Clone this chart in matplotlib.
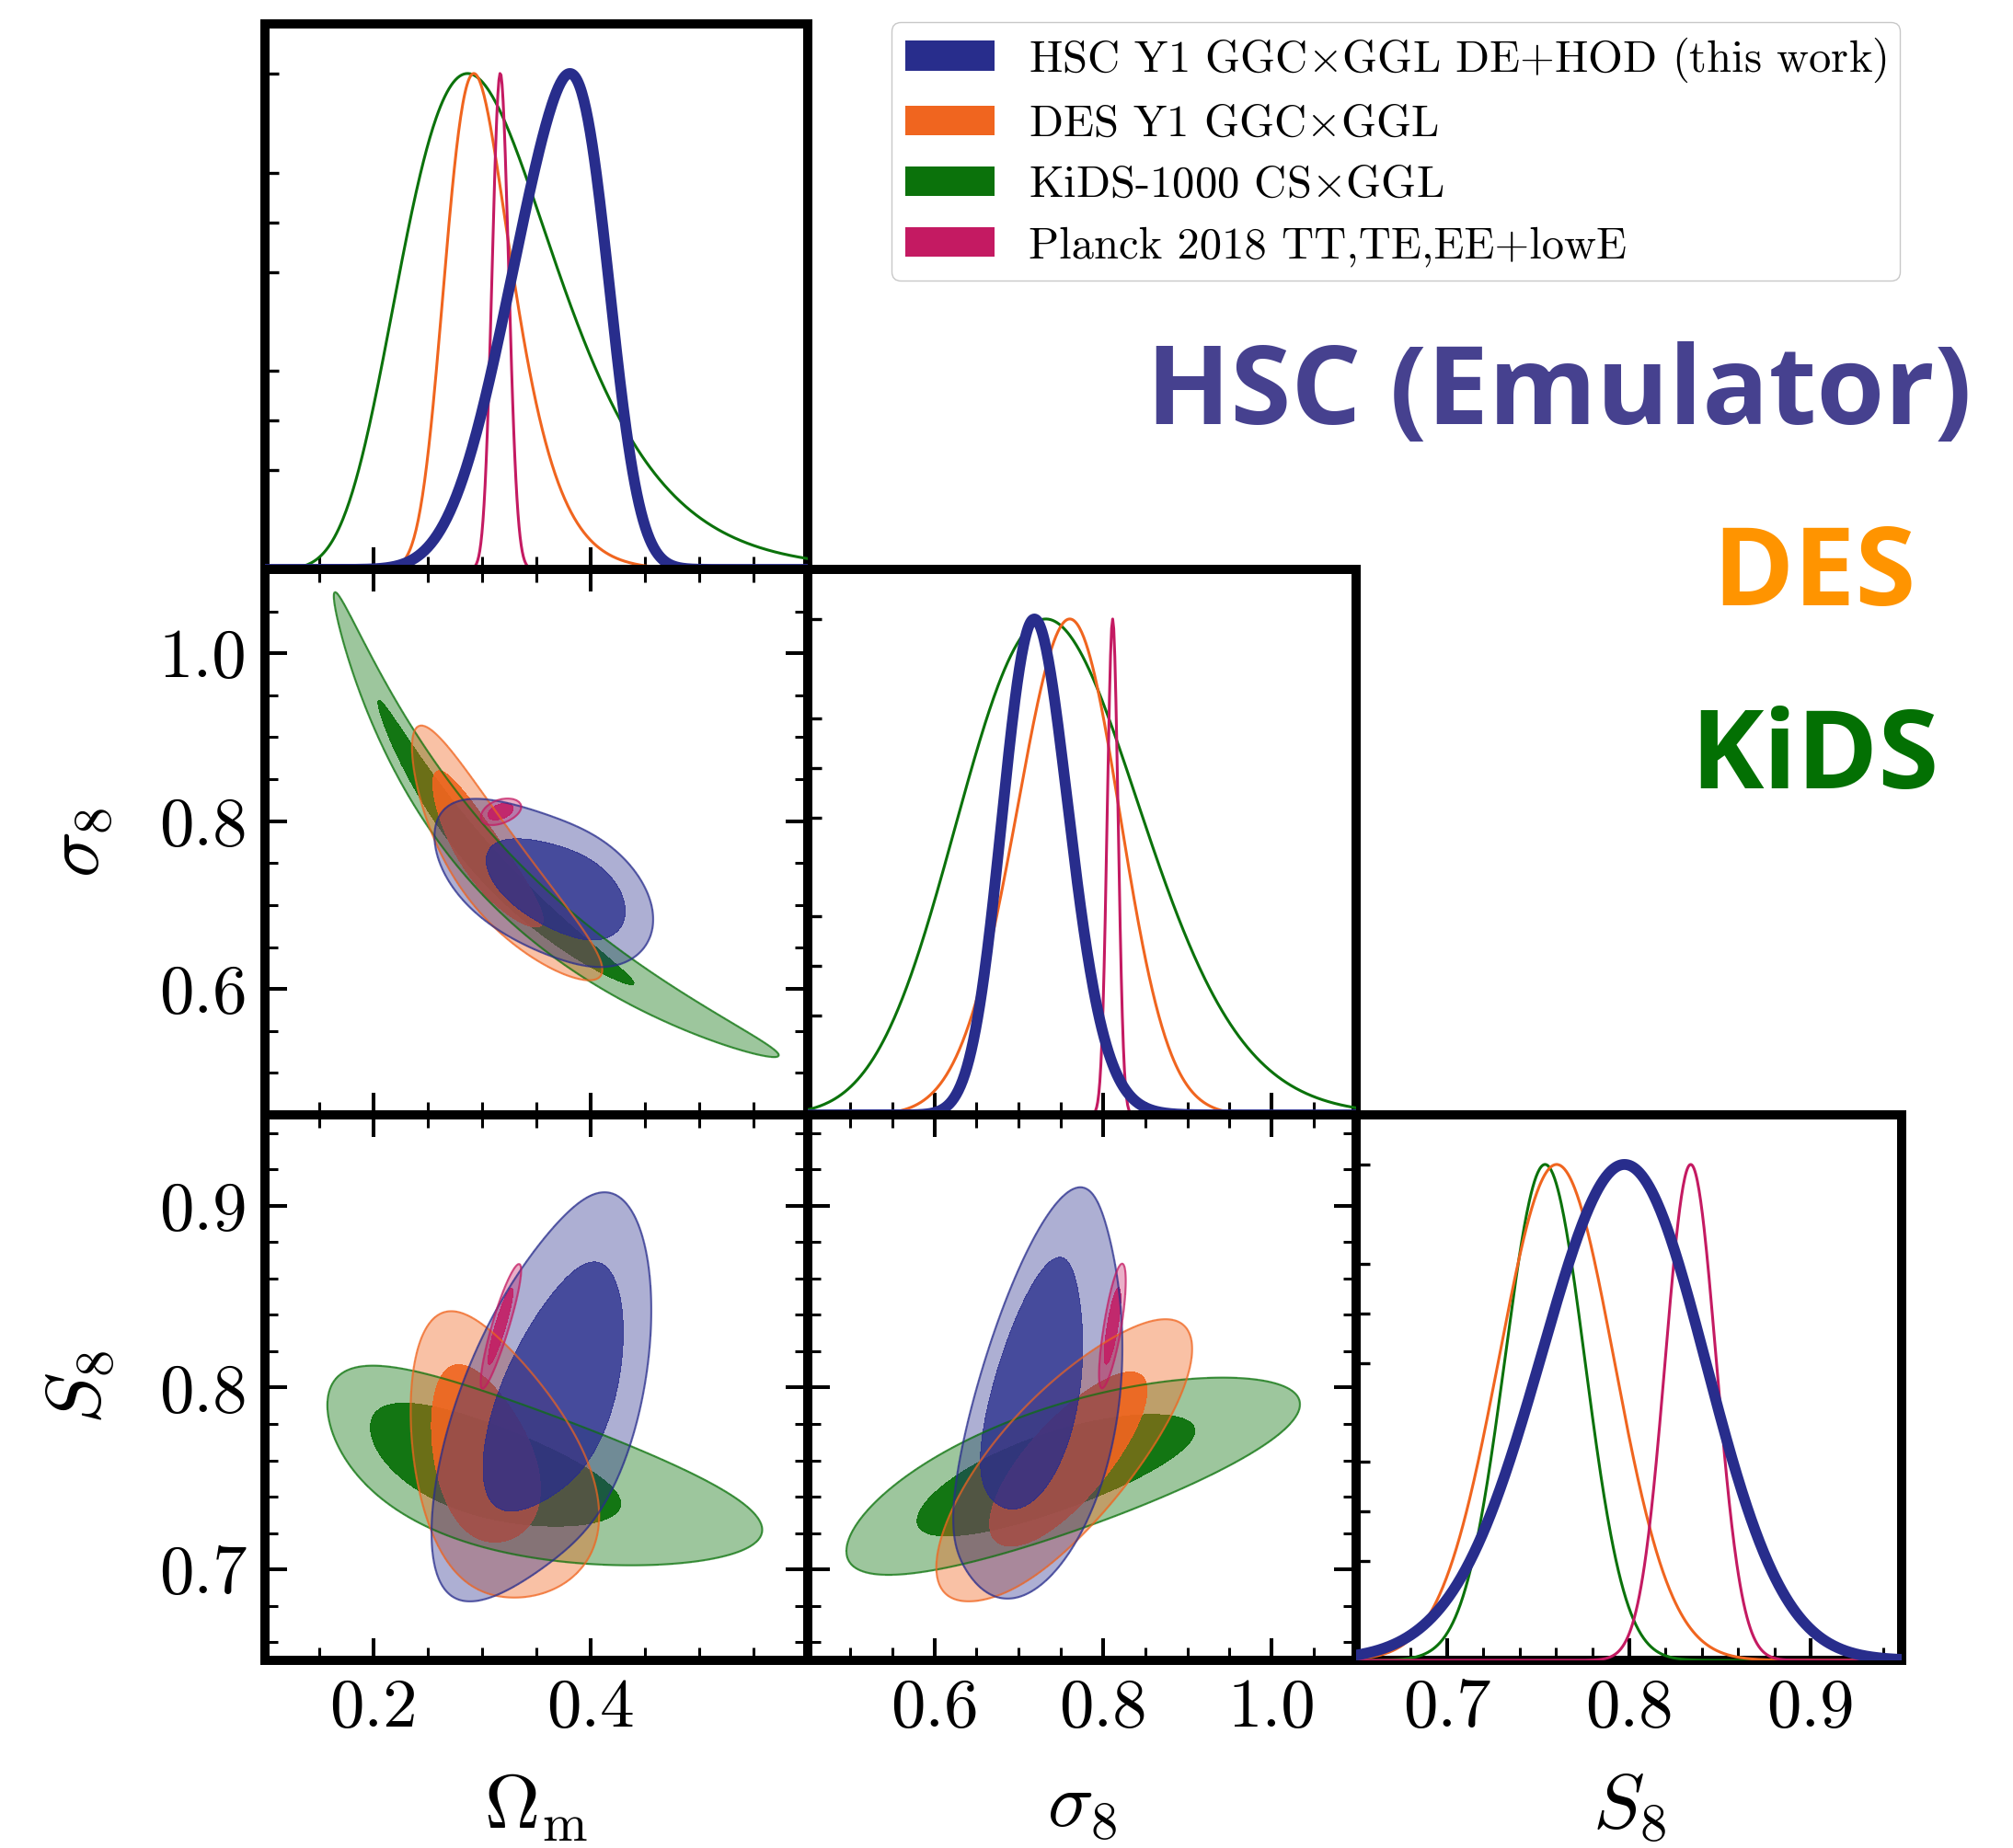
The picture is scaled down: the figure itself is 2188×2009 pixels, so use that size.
import numpy as np
import matplotlib
matplotlib.use('Agg')
import matplotlib.pyplot as plt
from matplotlib.ticker import FixedLocator, MultipleLocator, FormatStrFormatter, NullFormatter
from matplotlib.patches import Patch
from matplotlib.colors import to_rgb

plt.rcParams['font.family'] = 'serif'
plt.rcParams['font.serif'] = ['cmr10']
plt.rcParams['mathtext.fontset'] = 'cm'
plt.rcParams['axes.formatter.use_mathtext'] = True
plt.rcParams['axes.unicode_minus'] = False

# datasets, legend order
labels = ['HSC Y1 GGC$\\times$GGL DE+HOD (this work)',
          'DES Y1 GGC$\\times$GGL',
          'KiDS-1000 CS$\\times$GGL',
          'Planck 2018 TT,TE,EE+lowE']
colors = ['#282d8c', '#f0651f', '#0b720b', '#c41a62']
inner_alpha = [0.86, 0.95, 0.97, 0.9]
outer_alpha = [0.38, 0.4, 0.4, 0.35]
line_w = [8.5, 2.2, 2.2, 2.2]
draw_order = [2, 1, 0, 3]

# posterior summaries:
# ln(Omega_m) location / scale / skewness, S8 location / scale, correlation
lnom_loc = [-0.87, -1.306, -1.344, -1.149]
lnom_scale = [0.19, 0.164, 0.31, 0.024]
lnom_skew = [-3.5, 2.0, 1.0, 0.0]
s8_loc = [0.825, 0.772, 0.763, 0.834]
s8_scale = [0.055, 0.034, 0.024, 0.014]
s8_corr = [0.72, -0.5, -0.7, 0.9]

# axes
om_range = (0.1, 0.6)
sig8_range = (0.45, 1.1)
s8_range = (0.65, 0.95)
om_ticks = [0.2, 0.4]
sig8_ticks = [0.6, 0.8, 1.0]
s8_ticks = [0.7, 0.8, 0.9]
om_minor, sig8_minor, s8_minor = 0.05, 0.05, 0.02
diag_ticks = [0.2, 0.3, 0.4, 0.6, 0.7, 0.8, 1.0]


def norm_cdf(z):
    x = np.abs(z) / np.sqrt(2)
    t = 1 / (1 + 0.3275911 * x)
    y = 1 - (((((1.061405429 * t - 1.453152027) * t) + 1.421413741) * t
              - 0.284496736) * t + 0.254829592) * t * np.exp(-x * x)
    return 0.5 * (1 + np.sign(z) * y)


def post(lnom, s8, i):
    za = (lnom - lnom_loc[i]) / lnom_scale[i]
    zb = (s8 - s8_loc[i]) / s8_scale[i]
    r = s8_corr[i]
    q = (za ** 2 - 2 * r * za * zb + zb ** 2) / (1 - r ** 2)
    return np.exp(-0.5 * q) * norm_cdf(lnom_skew[i] * za)


def mass_levels(d):
    flat = np.sort(d.ravel())[::-1]
    c = np.cumsum(flat)
    c /= c[-1]
    return flat[np.searchsorted(c, 0.95)], flat[np.searchsorted(c, 0.68)]


om = np.linspace(0.03, 1.3, 1300)
sig = np.linspace(0.25, 1.9, 1300)
s8 = np.linspace(0.5, 1.1, 1300)

A_om, A_s8 = np.meshgrid(om, s8)
B_om, B_sig = np.meshgrid(om, sig)
C_sig, C_s8 = np.meshgrid(sig, s8)

d_om_s8, d_om_sig, d_sig_s8 = [], [], []
for i in range(4):
    d_om_s8.append(post(np.log(A_om), A_s8, i) / A_om)
    f = np.sqrt(B_om / 0.3)
    d_om_sig.append(post(np.log(B_om), B_sig * f, i) / B_om * f)
    d_sig_s8.append(post(np.log(0.3) + 2 * np.log(C_s8 / C_sig), C_s8, i) * 2 / C_sig)

W, H = 2188, 2009
fig = plt.figure(figsize=(W / 100, H / 100), dpi=100)
xe = [288, 878, 1474, 2067]
ye = [26, 619, 1212, 1805]


def add_panel(r, c):
    return fig.add_axes([xe[c] / W, 1 - ye[r + 1] / H,
                         (xe[c + 1] - xe[c]) / W, (ye[r + 1] - ye[r]) / H])


ranges = [om_range, sig8_range, s8_range]
majors = [om_ticks, sig8_ticks, s8_ticks]
minors = [om_minor, sig8_minor, s8_minor]
names = [r'$\Omega_{\rm m}$', r'$\sigma_8$', r'$S_8$']
TICK_FS = 54
LABEL_FS = 60


def set_axis(axis, k, show):
    axis.set_major_locator(FixedLocator(majors[k]))
    axis.set_minor_locator(MultipleLocator(minors[k]))
    if show:
        axis.set_major_formatter(FormatStrFormatter('%.1f'))
    else:
        axis.set_major_formatter(NullFormatter())


def spines(ax):
    for s in ax.spines.values():
        s.set_linewidth(7.2)


def twod(ax, X, Y, dens):
    for i in draw_order:
        lo, hi = mass_levels(dens[i])
        rgb = to_rgb(colors[i])
        ax.contourf(X, Y, dens[i], levels=[lo, hi, dens[i].max() * 2],
                    colors=[rgb + (outer_alpha[i],), rgb + (inner_alpha[i],)])
        ax.contour(X, Y, dens[i], levels=[lo], colors=[colors[i]],
                   linewidths=1.6, alpha=0.7)


def oned(ax, x, ys):
    for i in draw_order:
        y = ys[i]
        ax.plot(x, y / y.max(), color=colors[i], lw=line_w[i],
                zorder=5 if i == 0 else 3)


axes = {}
for r in range(3):
    for c in range(r + 1):
        ax = add_panel(r, c)
        axes[(r, c)] = ax
        spines(ax)
        ax.set_xlim(ranges[c])
        set_axis(ax.xaxis, c, r == 2)
        if r == c:
            ax.set_ylim(0, 1.1)
            ax.yaxis.set_major_locator(FixedLocator(diag_ticks))
            ax.yaxis.set_major_formatter(NullFormatter())
            ax.tick_params(axis='x', which='both', direction='in', top=False,
                           bottom=True, width=2.9, labelsize=TICK_FS, pad=14)
            ax.tick_params(axis='x', which='major', length=17)
            ax.tick_params(axis='x', which='minor', length=10, width=2.2)
            ax.tick_params(axis='y', which='major', direction='in', left=True,
                           right=False, length=11, width=2.4)
        else:
            ax.set_ylim(ranges[r])
            set_axis(ax.yaxis, r, c == 0)
            ax.tick_params(which='both', direction='in', top=True, right=True,
                           width=2.9, labelsize=TICK_FS, pad=14)
            ax.tick_params(which='major', length=17)
            ax.tick_params(which='minor', length=10, width=2.2)
        if r == 2:
            ax.set_xlabel(names[c], fontsize=LABEL_FS)
            ax.xaxis.set_label_coords(0.5, -0.27)
            ax.xaxis.label.set_va('center')
        if c == 0 and r > 0:
            ax.set_ylabel(names[r], fontsize=LABEL_FS)
            ax.yaxis.set_label_coords(-0.34, 0.5)
            ax.yaxis.label.set_va('center')

twod(axes[(1, 0)], B_om, B_sig, d_om_sig)
twod(axes[(2, 0)], A_om, A_s8, d_om_s8)
twod(axes[(2, 1)], C_sig, C_s8, d_sig_s8)

oned(axes[(0, 0)], om, [d.sum(axis=0) for d in d_om_s8])
oned(axes[(1, 1)], sig, [d.sum(axis=1) for d in d_om_sig])
oned(axes[(2, 2)], s8, [d.sum(axis=1) for d in d_om_s8])

handles = [Patch(facecolor=c, edgecolor='none') for c in colors]
fig.legend(handles, labels, loc='upper right',
           bbox_to_anchor=(2065 / W, 1 - 24 / H), borderaxespad=0,
           fontsize=35, handlelength=2.0, handleheight=0.65,
           handletextpad=0.75, labelspacing=0.45, borderpad=0.3,
           frameon=True, fancybox=True, edgecolor='#c8c8c8', framealpha=1)

big = dict(ha='center', va='baseline', fontweight='bold', family='Open Sans')
fig.text(1695 / W, 1 - 461 / H, 'HSC (Emulator)', fontsize=86, color='#46418f', **big)
fig.text(1972 / W, 1 - 658 / H, 'DES', fontsize=86, color='#ff9400', **big)
fig.text(1972 / W, 1 - 857 / H, 'KiDS', fontsize=86, color='#037003', **big)

fig.savefig('out.png', dpi=100)
